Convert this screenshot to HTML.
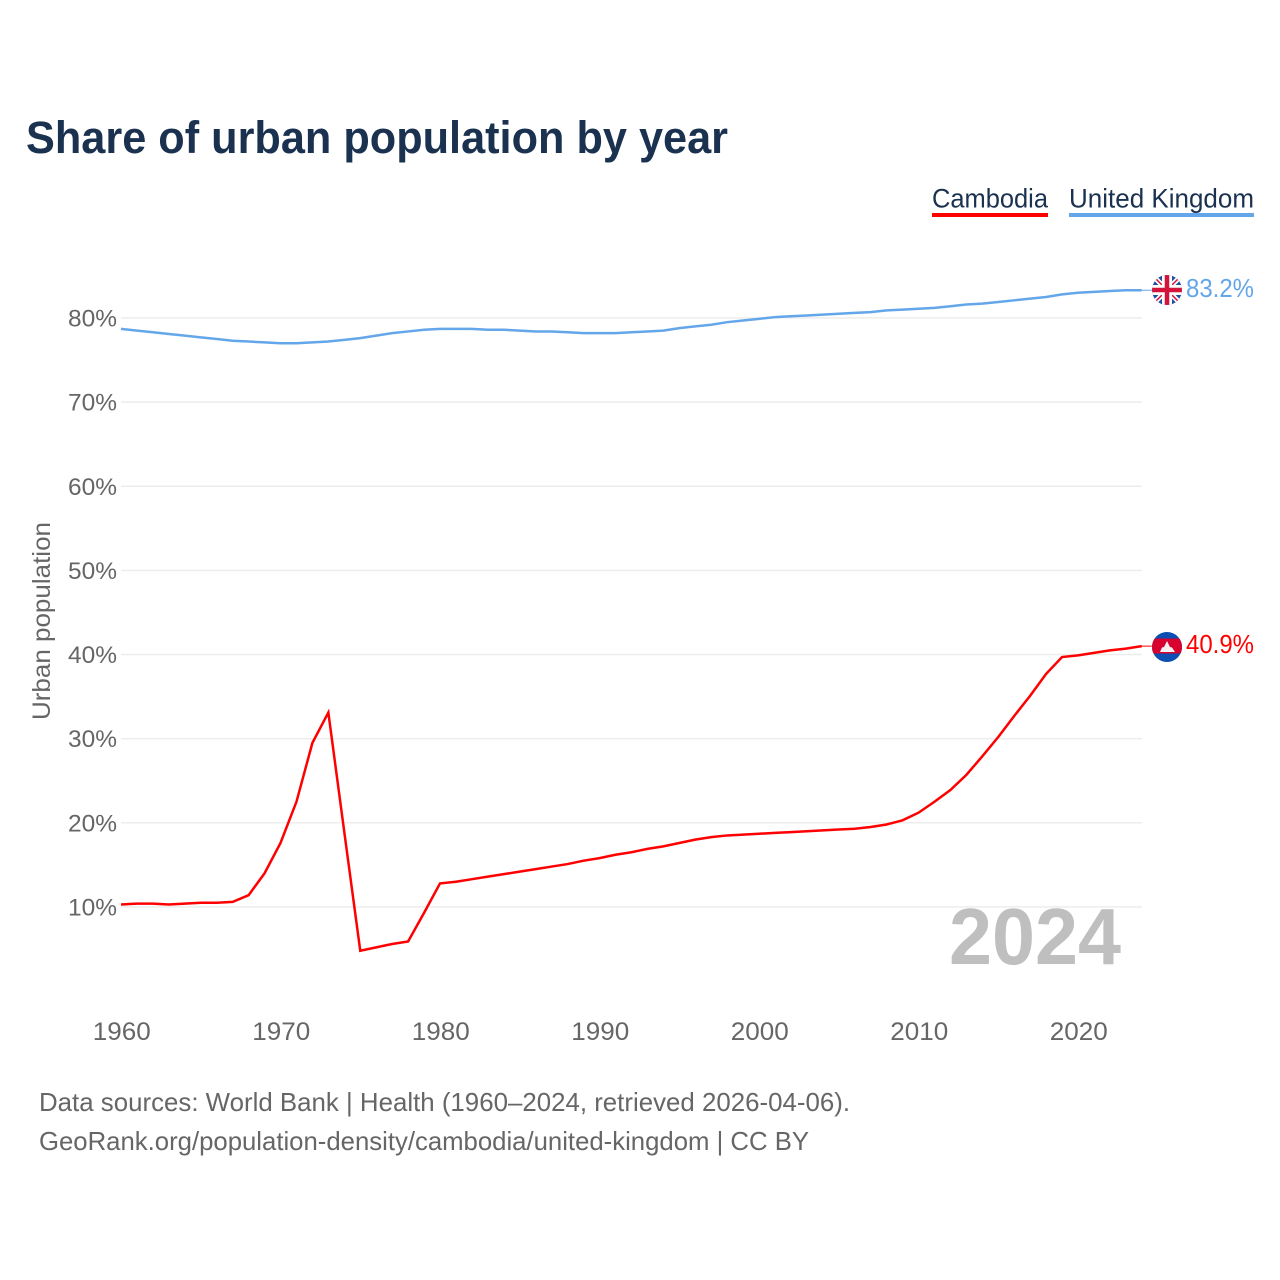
<!DOCTYPE html>
<html lang="en">
<head>
<meta charset="utf-8">
<title>Share of urban population by year</title>
<style>
html,body{margin:0;padding:0;background:#fff;}
svg{display:block;font-family:"Liberation Sans",sans-serif;}
</style>
</head>
<body>
<svg id="chart" xmlns="http://www.w3.org/2000/svg" width="1280" height="1280" viewBox="0 0 1280 1280">
  <rect x="0" y="0" width="1280" height="1280" fill="#ffffff"/>
  <text x="26" y="153" font-size="45" font-weight="700" fill="#1a3150" textLength="702" lengthAdjust="spacingAndGlyphs">Share of urban population by year</text>

  <g>
    <g>
      <text x="932" y="207.5" font-size="27" fill="#1a3150" textLength="116" lengthAdjust="spacingAndGlyphs">Cambodia</text>
      <rect x="932" y="213" width="116" height="4" fill="#ff0000"/>
    </g>
    <g>
      <text x="1069" y="207.5" font-size="27" fill="#1a3150" textLength="185" lengthAdjust="spacingAndGlyphs">United Kingdom</text>
      <rect x="1069" y="213" width="185" height="4" fill="#64a6ea"/>
    </g>
  </g>

  <text transform="translate(50,720) rotate(-90)" font-size="25" fill="#666666" textLength="198" lengthAdjust="spacingAndGlyphs">Urban population</text>

  <g id="grid"></g>
  <g id="yticks"></g>
  <g id="xticks"></g>

  <text x="949" y="964" font-size="80" font-weight="700" fill="#bfbfbf" textLength="172" lengthAdjust="spacingAndGlyphs">2024</text>

  <g id="series"></g>

  <defs>
    <clipPath id="uk-clip"><circle cx="1167" cy="290" r="15"/></clipPath>
    <clipPath id="kh-clip"><circle cx="1167" cy="647" r="15"/></clipPath>
  </defs>

  <g clip-path="url(#uk-clip)">
    <rect x="1152" y="275" width="30" height="30" fill="#1d4fa5"/>
    <path d="M1152 275L1182 305M1182 275L1152 305" stroke="#ffffff" stroke-width="5"/>
    <path d="M1152 275L1182 305M1182 275L1152 305" stroke="#d2143a" stroke-width="1.5"/>
    <rect x="1162" y="275" width="10" height="30" fill="#ffffff"/>
    <rect x="1152" y="285" width="30" height="10" fill="#ffffff"/>
    <rect x="1164.75" y="275" width="4.5" height="30" fill="#d2143a"/>
    <rect x="1152" y="287.75" width="30" height="4.5" fill="#d2143a"/>
  </g>
  <g clip-path="url(#kh-clip)">
    <rect x="1152" y="632" width="30" height="30" fill="#0b4fb3"/>
    <rect x="1152" y="638.5" width="30" height="15" fill="#d8002f"/>
    <path d="M1160 652L1162 647.5L1164 647L1167 641L1170 647L1172 647.5L1175 652Z" fill="#f2f2f2"/>
  </g>

  <text x="1186" y="297" font-size="26" fill="#64a6ea" textLength="68" lengthAdjust="spacingAndGlyphs">83.2%</text>
  <text x="1186" y="653" font-size="26" fill="#ff0000" textLength="68" lengthAdjust="spacingAndGlyphs">40.9%</text>

  <text x="39" y="1111" font-size="26" fill="#666666" textLength="811" lengthAdjust="spacingAndGlyphs">Data sources: World Bank | Health (1960–2024, retrieved 2026-04-06).</text>
  <text x="39" y="1150" font-size="26" fill="#666666" textLength="770" lengthAdjust="spacingAndGlyphs">GeoRank.org/population-density/cambodia/united-kingdom | CC BY</text>
</svg>
<script>
const startYear = 1960;
const xTickYears = [1960, 1970, 1980, 1990, 2000, 2010, 2020];
const yTickValues = [10, 20, 30, 40, 50, 60, 70, 80];
const cambodiaValues = [
  10.3, 10.4, 10.4, 10.3, 10.4, 10.5, 10.5, 10.6, 11.4, 14.0,
  17.6, 22.5, 29.5, 33.1, 18.9, 4.8, 5.2, 5.6, 5.9, 9.3,
  12.8, 13.0, 13.3, 13.6, 13.9, 14.2, 14.5, 14.8, 15.1, 15.5,
  15.8, 16.2, 16.5, 16.9, 17.2, 17.6, 18.0, 18.3, 18.5, 18.6,
  18.7, 18.8, 18.9, 19.0, 19.1, 19.2, 19.3, 19.5, 19.8, 20.3,
  21.2, 22.5, 23.9, 25.7, 27.9, 30.2, 32.7, 35.1, 37.7, 39.7,
  39.9, 40.2, 40.5, 40.7, 41.0
];
const unitedKingdomValues = [
  78.7, 78.5, 78.3, 78.1, 77.9, 77.7, 77.5, 77.3, 77.2, 77.1,
  77.0, 77.0, 77.1, 77.2, 77.4, 77.6, 77.9, 78.2, 78.4, 78.6,
  78.7, 78.7, 78.7, 78.6, 78.6, 78.5, 78.4, 78.4, 78.3, 78.2,
  78.2, 78.2, 78.3, 78.4, 78.5, 78.8, 79.0, 79.2, 79.5, 79.7,
  79.9, 80.1, 80.2, 80.3, 80.4, 80.5, 80.6, 80.7, 80.9, 81.0,
  81.1, 81.2, 81.4, 81.6, 81.7, 81.9, 82.1, 82.3, 82.5, 82.8,
  83.0, 83.1, 83.2, 83.3, 83.3
];

const NS = 'http://www.w3.org/2000/svg';
const PLOT_LEFT = 121;
const PLOT_RIGHT = 1142;
const PX_PER_YEAR = 15.95;
const PX_PER_PERCENT = 8.414;
const Y_AT_ZERO = 991.1;

function xScale(year) {
  return PLOT_LEFT + (year - startYear) * PX_PER_YEAR;
}
function yScale(value) {
  return Y_AT_ZERO - value * PX_PER_PERCENT;
}
function svgEl(tag, attrs) {
  const el = document.createElementNS(NS, tag);
  Object.keys(attrs).forEach(function (k) { el.setAttribute(k, attrs[k]); });
  return el;
}

const grid = document.getElementById('grid');
const yticks = document.getElementById('yticks');
yTickValues.forEach(function (v) {
  const y = yScale(v);
  const line = svgEl('line', { x1: PLOT_LEFT, x2: PLOT_RIGHT, y1: y, y2: y, stroke: '#ececec', 'stroke-width': 1.4 });
  
  
  grid.appendChild(line);

  const t = svgEl('text', { x: 117, y: y + 8.5, 'text-anchor': 'end', 'font-size': 24.5, fill: '#666666', textLength: 49, lengthAdjust: 'spacingAndGlyphs' });
  t.textContent = v + '%';
  
  
  yticks.appendChild(t);
});

const xticks = document.getElementById('xticks');
xTickYears.forEach(function (yr) {
  const t = svgEl('text', { x: xScale(yr) + 0.8, y: 1040, 'text-anchor': 'middle', 'font-size': 25, fill: '#666666', textLength: 58, lengthAdjust: 'spacingAndGlyphs' });
  t.textContent = String(yr);
  
  
  xticks.appendChild(t);
});

function drawSeries(values, color, name) {
  const group = document.getElementById('series');
  const pts = values.map(function (v, i) {
    return xScale(startYear + i).toFixed(2) + ',' + yScale(v).toFixed(2);
  });
  const line = svgEl('polyline', { points: pts.join(' '), fill: 'none', stroke: color, 'stroke-width': 2.5, 'stroke-linejoin': 'miter' });
  
  
  group.appendChild(line);

  const lastY = yScale(values[values.length - 1]);
  const lastX = xScale(startYear + values.length - 1);
  const lead = svgEl('line', { x1: lastX, x2: lastX + 10, y1: lastY, y2: lastY, stroke: color, 'stroke-width': 1 });
  
  
  group.appendChild(lead);
}
drawSeries(unitedKingdomValues, '#64a6ea', 'united-kingdom');
drawSeries(cambodiaValues, '#ff0000', 'cambodia');
</script>
</body>
</html>
